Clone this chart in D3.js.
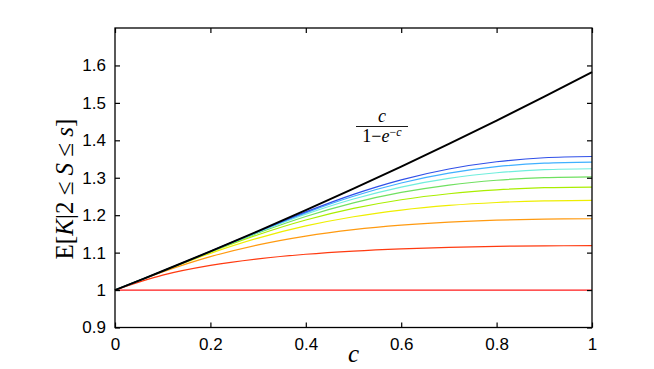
<!DOCTYPE html>
<html><head><meta charset="utf-8">
<script src="https://cdn.jsdelivr.net/npm/d3@7"></script>
<style>body{margin:0;background:#fff}svg{display:block}</style>
</head><body>
<svg id="chart" width="654" height="369"></svg>
<script>
const cValues = [0, 0.1, 0.2, 0.3, 0.4, 0.5, 0.6, 0.7, 0.8, 0.9, 1.0];
const boundLine = [1.0, 1.0508, 1.1033, 1.1575, 1.2133, 1.2708, 1.3298, 1.3905, 1.4528, 1.5166, 1.5820];
const sLabels = [2, 3, 4, 5, 6, 7, 8, 9, 10];
const s2 = [1, 1, 1, 1, 1, 1, 1, 1, 1, 1, 1];
const s3 = [1, 1.0398, 1.0657, 1.0833, 1.0956, 1.1042, 1.1102, 1.1142, 1.1168, 1.1181, 1.1185];
const s4 = [1, 1.0485, 1.0893, 1.1208, 1.1443, 1.1613, 1.1734, 1.1817, 1.1869, 1.1897, 1.1905];
const s5 = [1, 1.0504, 1.0980, 1.1388, 1.1713, 1.1959, 1.2137, 1.2260, 1.2339, 1.2381, 1.2394];
const s6 = [1, 1.0507, 1.1013, 1.1478, 1.1871, 1.2181, 1.2412, 1.2573, 1.2677, 1.2734, 1.2751];
const s7 = [1, 1.0508, 1.1025, 1.1524, 1.1966, 1.2329, 1.2607, 1.2805, 1.2933, 1.3003, 1.3024];
const s8 = [1, 1.0508, 1.1030, 1.1548, 1.2026, 1.2432, 1.2751, 1.2982, 1.3133, 1.3216, 1.3241];
const s9 = [1, 1.0508, 1.1032, 1.1560, 1.2063, 1.2505, 1.2860, 1.3122, 1.3295, 1.3390, 1.3419];
const s10 = [1, 1.0508, 1.1033, 1.1567, 1.2087, 1.2556, 1.2944, 1.3233, 1.3427, 1.3534, 1.3567];
const seriesColors = ["#ff1a1a", "#ff3a10", "#ff9a10", "#eeee00", "#aaee00", "#70e060", "#70eedd", "#40b0ff", "#3050e8"];
const xTicks = [0, 0.2, 0.4, 0.6, 0.8, 1];
const yTicks = [0.9, 1, 1.1, 1.2, 1.3, 1.4, 1.5, 1.6];
const xTickLabels = ["0", "0.2", "0.4", "0.6", "0.8", "1"];
const yTickLabels = ["0.9", "1", "1.1", "1.2", "1.3", "1.4", "1.5", "1.6"];

const series = [s2, s3, s4, s5, s6, s7, s8, s9, s10];
const svg = d3.select("#chart");
const L = 115, R = 592, T = 28, B = 327.5;
const x = d3.scaleLinear().domain([0, 1]).range([L, R]);
const y = d3.scaleLinear().domain([0.9, 1.7]).range([B, T]);

const line = d3.line().x((d, i) => x(cValues[i])).y(d => y(d)).curve(d3.curveCatmullRom.alpha(0.5));

const g = svg.append("g");
series.forEach((s, k) => {
  g.append("path").attr("d", line(s)).attr("fill", "none")
    .attr("stroke", seriesColors[k]).attr("stroke-width", 1.2);
});
g.append("path").attr("d", line(boundLine)).attr("fill", "none")
  .attr("stroke", "#000").attr("stroke-width", 2);

// axes with inward ticks
const tickFont = "'Liberation Sans', Arial, Helvetica, sans-serif";
const xAxisB = d3.axisBottom(x).tickValues(xTicks).tickSize(-5).tickFormat((d, i) => xTickLabels[i]).tickPadding(10);
const xAxisT = d3.axisTop(x).tickValues(xTicks).tickSize(-5).tickFormat("");
const yAxisL = d3.axisLeft(y).tickValues(yTicks).tickSize(-5).tickFormat((d, i) => yTickLabels[i]).tickPadding(9);
const yAxisR = d3.axisRight(y).tickValues(yTicks).tickSize(-5).tickFormat("");
function style(sel) {
  sel.select(".domain").remove();
  sel.selectAll("line").attr("stroke", "#000").attr("stroke-width", 1.2);
  sel.selectAll("text").attr("fill", "#000").attr("font-family", tickFont).attr("font-size", 17)
    .style("font-family", tickFont).style("font-size", "17px");
}
svg.append("g").attr("transform", `translate(0,${B})`).call(xAxisB).call(style);
svg.append("g").attr("transform", `translate(0,${T})`).call(xAxisT).call(style);
svg.append("g").attr("transform", `translate(${L},0)`).call(yAxisL).call(style);
svg.append("g").attr("transform", `translate(${R},0)`).call(yAxisR).call(style);

svg.append("rect").attr("x", L).attr("y", T).attr("width", R - L).attr("height", B - T)
  .attr("fill", "none").attr("stroke", "#000").attr("stroke-width", 1.3);

// axis labels
const serif = "'Liberation Serif', 'DejaVu Serif', serif";
svg.append("text").attr("x", x(0.5)).attr("y", 362).attr("text-anchor", "middle")
  .style("font-family", serif).style("font-style", "italic").style("font-size", "25px").text("c");

const yl = svg.append("text").attr("transform", "translate(73,189) rotate(-90)")
  .attr("text-anchor", "middle").style("font-family", serif).style("font-size", "25px");
yl.append("tspan").text("E[");
yl.append("tspan").style("font-style", "italic").text("K");
yl.append("tspan").text("|2 ≤ ");
yl.append("tspan").style("font-style", "italic").text("S");
yl.append("tspan").text(" ≤ ");
yl.append("tspan").style("font-style", "italic").text("s");
yl.append("tspan").text("]");

// annotation
const ax = 382;
svg.append("text").attr("x", ax).attr("y", 122).attr("text-anchor", "middle")
  .style("font-family", serif).style("font-style", "italic").style("font-size", "18px").text("c");
svg.append("line").attr("x1", ax - 26).attr("x2", ax + 26).attr("y1", 126.5).attr("y2", 126.5)
  .attr("stroke", "#000").attr("stroke-width", 0.9);
const den = svg.append("text").attr("x", ax).attr("y", 142).attr("text-anchor", "middle")
  .style("font-family", serif).style("font-size", "18px");
den.append("tspan").text("1−");
den.append("tspan").style("font-style", "italic").text("e");
den.append("tspan").attr("dy", -6).style("font-size", "12px").text("−");
den.append("tspan").style("font-size", "12px").style("font-style", "italic").text("c");
</script>
</body></html>
